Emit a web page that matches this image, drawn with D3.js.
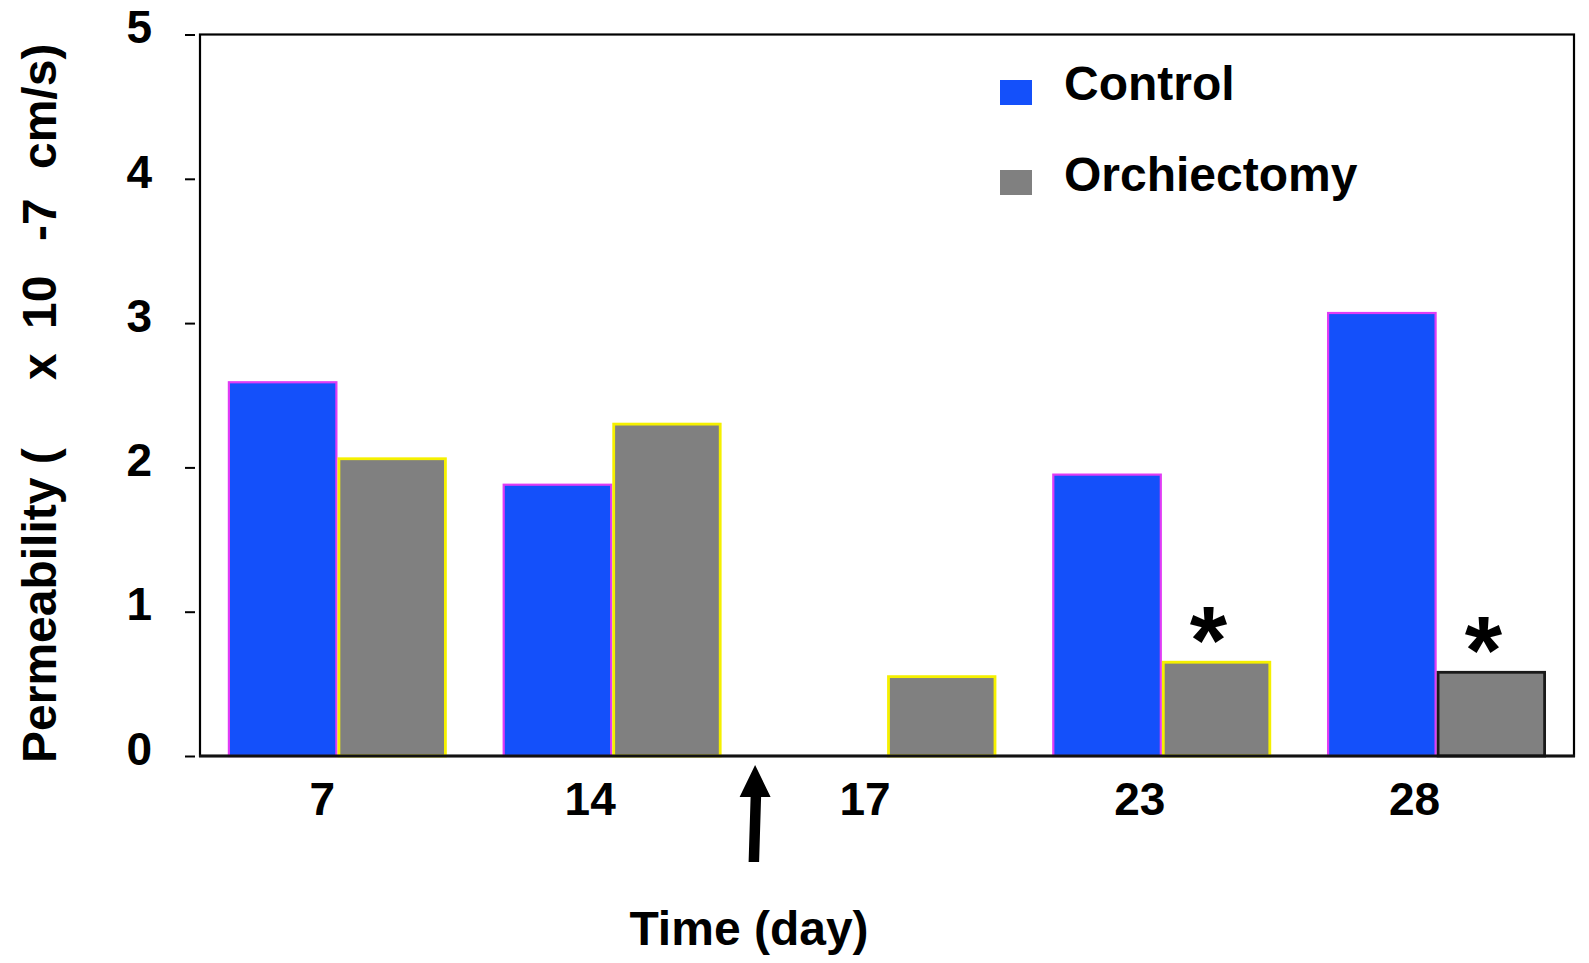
<!DOCTYPE html>
<html>
<head>
<meta charset="utf-8">
<script src="https://cdn.jsdelivr.net/npm/d3@7"></script>
<style>
  html, body { margin: 0; padding: 0; background: #fff; }
  svg { display: block; }
  text { font-family: Arial, "Liberation Sans", Helvetica, sans-serif; font-weight: bold; fill: #000; }
</style>
</head>
<body>
<svg id="chart" width="1589" height="963"></svg>
<script>
// Permeability by time point (x 10^-7 cm/s)
const days = ["7", "14", "17", "23", "28"];
const control = [2.59, 1.88, null, 1.95, 3.07];
const orchiectomy = [2.06, 2.30, 0.55, 0.65, 0.58];
const significant = [false, false, false, true, true];
const yTicks = [0, 1, 2, 3, 4, 5];
const seriesNames = ["Control", "Orchiectomy"];

// styling
const controlFill = "#1450fa";
const controlStroke = "#e03cf5";
const orchFill = "#808080";
const orchStroke = ["#f5f000", "#f5f000", "#f5f000", "#f5f000", "#1a1a1a"];

const svg = d3.select("#chart");
const plotLeft = 200, plotRight = 1574, plotTop = 34.5, plotBottom = 756;

const x = d3.scaleBand().domain(days).range([plotLeft, plotRight])
  .paddingInner(0.203).paddingOuter(0.1015);
const sub = d3.scaleBand().domain(["control", "orch"]).range([0, x.bandwidth()]);
const y = d3.scaleLinear().domain([0, 5]).range([plotBottom, plotTop]);

// frame
svg.append("rect")
  .attr("x", plotLeft).attr("y", plotTop)
  .attr("width", plotRight - plotLeft).attr("height", plotBottom - plotTop)
  .attr("fill", "none").attr("stroke", "#000").attr("stroke-width", 2.2);

// bars
const rows = days.map((d, i) => ({ day: d, c: control[i], o: orchiectomy[i], sig: significant[i], i }));

svg.append("g").selectAll("rect")
  .data(rows.filter(r => r.c != null))
  .join("rect")
  .attr("x", r => x(r.day) + sub("control") + 1)
  .attr("y", r => y(r.c))
  .attr("width", sub.bandwidth() - 2)
  .attr("height", r => y(0) - y(r.c))
  .attr("fill", controlFill)
  .attr("stroke", controlStroke)
  .attr("stroke-width", 2.2);

svg.append("g").selectAll("rect")
  .data(rows)
  .join("rect")
  .attr("x", r => x(r.day) + sub("orch") + 1.5)
  .attr("y", r => y(r.o))
  .attr("width", sub.bandwidth() - 3)
  .attr("height", r => y(0) - y(r.o))
  .attr("fill", orchFill)
  .attr("stroke", r => orchStroke[r.i])
  .attr("stroke-width", 2.8);

// bottom axis line
svg.append("line")
  .attr("x1", plotLeft - 1).attr("x2", plotRight + 1)
  .attr("y1", plotBottom).attr("y2", plotBottom)
  .attr("stroke", "#111").attr("stroke-width", 3);

// significance markers
svg.append("g").selectAll("text")
  .data(rows.filter(r => r.sig))
  .join("text")
  .attr("x", r => x(r.day) + sub("orch") + sub.bandwidth() / 2 - 8)
  .attr("y", r => y(r.o) + 11)
  .attr("text-anchor", "middle")
  .style("font-size", "96px")
  .text("*");

// y axis ticks and labels
const yAxis = d3.axisLeft(y).tickValues(yTicks).tickSize(10).tickPadding(33).tickFormat(d3.format("d"));
const yg = svg.append("g").attr("transform", "translate(195,0)").call(yAxis);
yg.select(".domain").remove();
yg.selectAll(".tick line").attr("stroke", "#000").attr("stroke-width", 2);
yg.selectAll(".tick text")
  .attr("dy", "0.18em")
  .style("font-size", "46px")
  .style("font-family", "Arial, 'Liberation Sans', sans-serif")
  .style("font-weight", "bold")
  .attr("fill", "#000");

// x axis labels
const xAxis = d3.axisBottom(x).tickSize(0).tickPadding(0);
const xg = svg.append("g").attr("transform", `translate(-22,${plotBottom})`).call(xAxis);
xg.select(".domain").remove();
xg.selectAll(".tick text")
  .attr("y", 59).attr("dy", 0)
  .attr("dx", d => d.length === 1 ? 7 : 0)
  .style("font-size", "46px")
  .style("font-family", "Arial, 'Liberation Sans', sans-serif")
  .style("font-weight", "bold")
  .attr("fill", "#000");

// y axis title
const yTitle = svg.append("text")
  .attr("transform", "translate(56,0) rotate(-90)")
  .style("font-size", "48px");
[["Permeability (", 763], ["x", 380], ["10", 329], ["-7", 241], ["cm/s)", 169]].forEach(([t, yy]) => {
  yTitle.append("tspan").attr("x", -yy).attr("y", 0).text(t);
});

// x axis title
svg.append("text")
  .attr("x", 749).attr("y", 945)
  .attr("text-anchor", "middle")
  .style("font-size", "48px")
  .text("Time (day)");

// arrow marking the intervention
const ax = x("17") - x.step() * x.paddingInner() / 2 + 7;
svg.append("path")
  .attr("d", d3.line()([
    [ax - 1.5, 765], [ax + 14, 797], [ax + 4.5, 797], [ax + 2.5, 862],
    [ax - 8, 862], [ax - 6, 797], [ax - 17, 797]
  ]) + "Z")
  .attr("fill", "#000");

// legend
const legend = svg.append("g");
const legendRows = [
  { name: seriesNames[0], fill: controlFill, sy: 80, ty: 100 },
  { name: seriesNames[1], fill: orchFill, sy: 170, ty: 191 }
];
legend.selectAll("rect").data(legendRows).join("rect")
  .attr("x", 1000).attr("y", d => d.sy).attr("width", 32).attr("height", 25)
  .attr("fill", d => d.fill);
legend.selectAll("text").data(legendRows).join("text")
  .attr("x", 1064).attr("y", d => d.ty)
  .style("font-size", "48px")
  .text(d => d.name);
</script>
</body>
</html>
